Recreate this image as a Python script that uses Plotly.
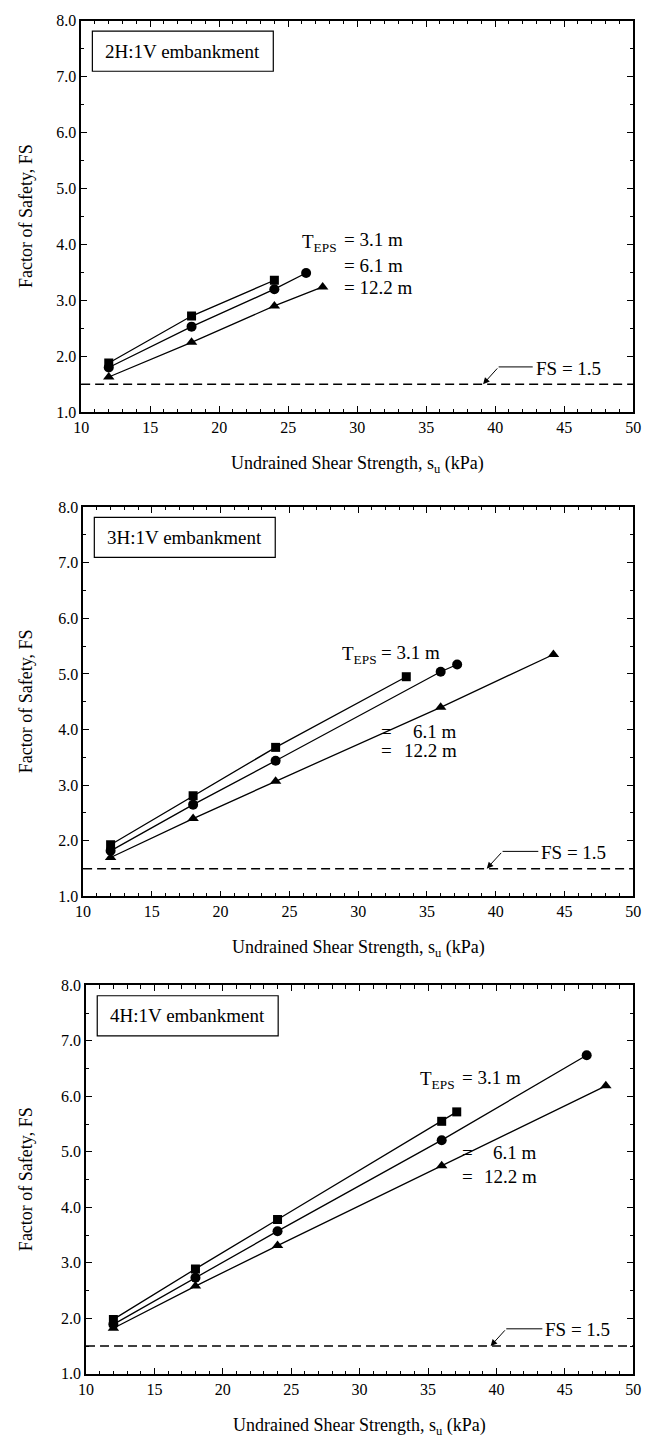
import plotly.graph_objects as go

# ---------------- data ----------------
slopes = ["2H:1V embankment", "3H:1V embankment", "4H:1V embankment"]

# 2H:1V
su_2h_t31 = [12, 18, 24]
fs_2h_t31 = [1.88, 2.72, 3.36]
su_2h_t61 = [12, 18, 24, 26.3]
fs_2h_t61 = [1.80, 2.53, 3.20, 3.49]
su_2h_t122 = [12, 18, 24, 27.5]
fs_2h_t122 = [1.63, 2.25, 2.90, 3.24]

# 3H:1V
su_3h_t31 = [12, 18, 24, 33.5]
fs_3h_t31 = [1.93, 2.81, 3.68, 4.95]
su_3h_t61 = [12, 18, 24, 36, 37.2]
fs_3h_t61 = [1.82, 2.65, 3.44, 5.04, 5.17]
su_3h_t122 = [12, 18, 24, 36, 44.2]
fs_3h_t122 = [1.70, 2.40, 3.07, 4.40, 5.35]

# 4H:1V
su_4h_t31 = [12, 18, 24, 36, 37.1]
fs_4h_t31 = [1.98, 2.89, 3.78, 5.55, 5.72]
su_4h_t61 = [12, 18, 24, 36, 46.6]
fs_4h_t61 = [1.89, 2.73, 3.57, 5.21, 6.74]
su_4h_t122 = [12, 18, 24, 36, 48]
fs_4h_t122 = [1.82, 2.58, 3.31, 4.75, 6.19]

fs_required = 1.5
x_ticks = [10, 15, 20, 25, 30, 35, 40, 45, 50]
y_ticks = [1.0, 2.0, 3.0, 4.0, 5.0, 6.0, 7.0, 8.0]
thickness_labels = ["3.1 m", "6.1 m", "12.2 m"]

series = [
    [(su_2h_t31, fs_2h_t31), (su_2h_t61, fs_2h_t61), (su_2h_t122, fs_2h_t122)],
    [(su_3h_t31, fs_3h_t31), (su_3h_t61, fs_3h_t61), (su_3h_t122, fs_3h_t122)],
    [(su_4h_t31, fs_4h_t31), (su_4h_t61, fs_4h_t61), (su_4h_t122, fs_4h_t122)],
]
symbols = ["square", "circle", "triangle-up"]
msizes = [9, 10, 10]

# ---------------- layout geometry (pixels) ----------------
W, H = 649, 1447
FONT = "Liberation Serif, Times New Roman, serif"
panels_px = [  # left, right, top, bottom
    (75, 641, 13, 409),
    (77, 641, 505, 899),
    (80, 641, 989, 1382),
]

# annotation positions in data units per panel
label_cfg = [
    dict(t_right=28.66, eq_x=28.87, rows=[4.08, 3.63, 3.23], mode="left", val_x=None,
         tail=40.25, tip=39.12, lead_end=42.72, txt=42.8),
    dict(t_right=31.49, eq_x=31.55, rows=[5.39, 3.97, 3.62], mode="right", val_x=37.30,
         tail=40.5, tip=39.35, lead_end=43.1, txt=43.15),
    dict(t_right=37.09, eq_x=37.31, rows=[6.34, 4.99, 4.56], mode="right", val_x=43.08,
         tail=40.72, tip=39.58, lead_end=43.36, txt=43.4),
]

fig = go.Figure()
layout = dict(
    width=W, height=H, margin=dict(l=0, r=0, t=0, b=0),
    paper_bgcolor="white", plot_bgcolor="white", showlegend=False,
    font=dict(family=FONT, color="black", size=16),
)
annotations = []
shapes = []

for i in range(3):
    l, r, t, b = panels_px[i]
    xa = "x" if i == 0 else f"x{i+1}"
    ya = "y" if i == 0 else f"y{i+1}"
    xk = "xaxis" if i == 0 else f"xaxis{i+1}"
    yk = "yaxis" if i == 0 else f"yaxis{i+1}"
    common = dict(showline=True, linecolor="black", linewidth=1.5, mirror="allticks",
                  ticks="inside", ticklen=6, tickwidth=1.2, tickcolor="black",
                  showgrid=False, zeroline=False,
                  tickfont=dict(family=FONT, size=16, color="black"))
    layout[xk] = dict(common, domain=[l / W, r / W], anchor=ya, range=[10, 50],
                      tickvals=x_ticks, ticktext=[str(v) for v in x_ticks],
                      minor=dict(dtick=1, ticks="inside", ticklen=3.5, tickwidth=1, tickcolor="black", showgrid=False))
    layout[yk] = dict(common, domain=[1 - b / H, 1 - t / H], anchor=xa, range=[1, 8],
                      tickvals=y_ticks, ticktext=[f"{v:.1f}" for v in y_ticks],
                      minor=dict(dtick=0.5, ticks="inside", ticklen=3.5, tickwidth=1, tickcolor="black", showgrid=False))

    for k in range(3):
        xs, ys = series[i][k]
        fig.add_trace(go.Scatter(x=xs, y=ys, mode="lines+markers", xaxis=xa, yaxis=ya,
                                 line=dict(color="black", width=1.3),
                                 marker=dict(symbol=symbols[k], size=msizes[k], color="black"),
                                 hoverinfo="skip"))

    # FS = 1.5 dashed line
    shapes.append(dict(type="line", xref=f"{xa} domain", yref=ya, x0=0, x1=1, y0=fs_required, y1=fs_required,
                       line=dict(color="black", width=1.5, dash="9px,5px")))
    c = label_cfg[i]
    lead_y = 1.81
    shapes.append(dict(type="line", xref=xa, yref=ya, x0=c["tail"], x1=c["lead_end"], y0=lead_y, y1=lead_y,
                       line=dict(color="black", width=1)))
    annotations.append(dict(xref=xa, yref=ya, x=c["tip"], y=fs_required, axref=xa, ayref=ya,
                            ax=c["tail"], ay=lead_y, text="", showarrow=True, arrowhead=2,
                            arrowsize=1.3, arrowwidth=1, arrowcolor="black"))
    annotations.append(dict(xref=xa, yref=ya, x=c["txt"], y=1.79, text="FS = 1.5", showarrow=False,
                            xanchor="left", yanchor="middle", font=dict(size=19)))

    # slope label box
    bx0 = 11.5 / (r - l)
    bx1 = 197 / (r - l)
    by1 = 1 - 10.5 / (b - t)
    by0 = 1 - 51 / (b - t)
    shapes.append(dict(type="rect", xref=f"{xa} domain", yref=f"{ya} domain", x0=bx0, x1=bx1, y0=by0, y1=by1,
                       line=dict(color="black", width=1.2), fillcolor="white"))
    annotations.append(dict(xref=f"{xa} domain", yref=f"{ya} domain", x=(bx0 + bx1) / 2, y=(by0 + by1) / 2,
                            text=slopes[i], showarrow=False, xanchor="center", yanchor="middle",
                            font=dict(size=19)))

    # thickness labels
    rows = c["rows"]
    annotations.append(dict(xref=xa, yref=ya, x=c["t_right"], y=rows[0], text="T<sub>EPS</sub>",
                            showarrow=False, xanchor="right", yanchor="middle", yshift=-3,
                            font=dict(size=19)))
    annotations.append(dict(xref=xa, yref=ya, x=c["eq_x"], y=rows[0], text="= " + thickness_labels[0],
                            showarrow=False, xanchor="left", yanchor="middle", font=dict(size=19)))
    for k in (1, 2):
        if c["mode"] == "left":
            annotations.append(dict(xref=xa, yref=ya, x=c["eq_x"], y=rows[k], text="= " + thickness_labels[k],
                                    showarrow=False, xanchor="left", yanchor="middle", font=dict(size=19)))
        else:
            annotations.append(dict(xref=xa, yref=ya, x=c["eq_x"], y=rows[k], text="=",
                                    showarrow=False, xanchor="left", yanchor="middle", font=dict(size=19)))
            annotations.append(dict(xref=xa, yref=ya, x=c["val_x"], y=rows[k], text=thickness_labels[k],
                                    showarrow=False, xanchor="right", yanchor="middle", font=dict(size=19)))

    # axis titles
    annotations.append(dict(xref="paper", yref="paper", x=((l + r) / 2) / W, y=1 - (b + 53) / H,
                            text="Undrained Shear Strength, s<sub>u</sub> (kPa)", showarrow=False,
                            xanchor="center", yanchor="middle", font=dict(size=18)))
    annotations.append(dict(xref="paper", yref="paper", x=18 / W, y=1 - ((t + b) / 2) / H,
                            text="Factor of Safety, FS", showarrow=False, textangle=-90,
                            xanchor="center", yanchor="middle", font=dict(size=18)))

layout["annotations"] = annotations
layout["shapes"] = shapes
fig.update_layout(**layout)
fig.write_html("out.html")
